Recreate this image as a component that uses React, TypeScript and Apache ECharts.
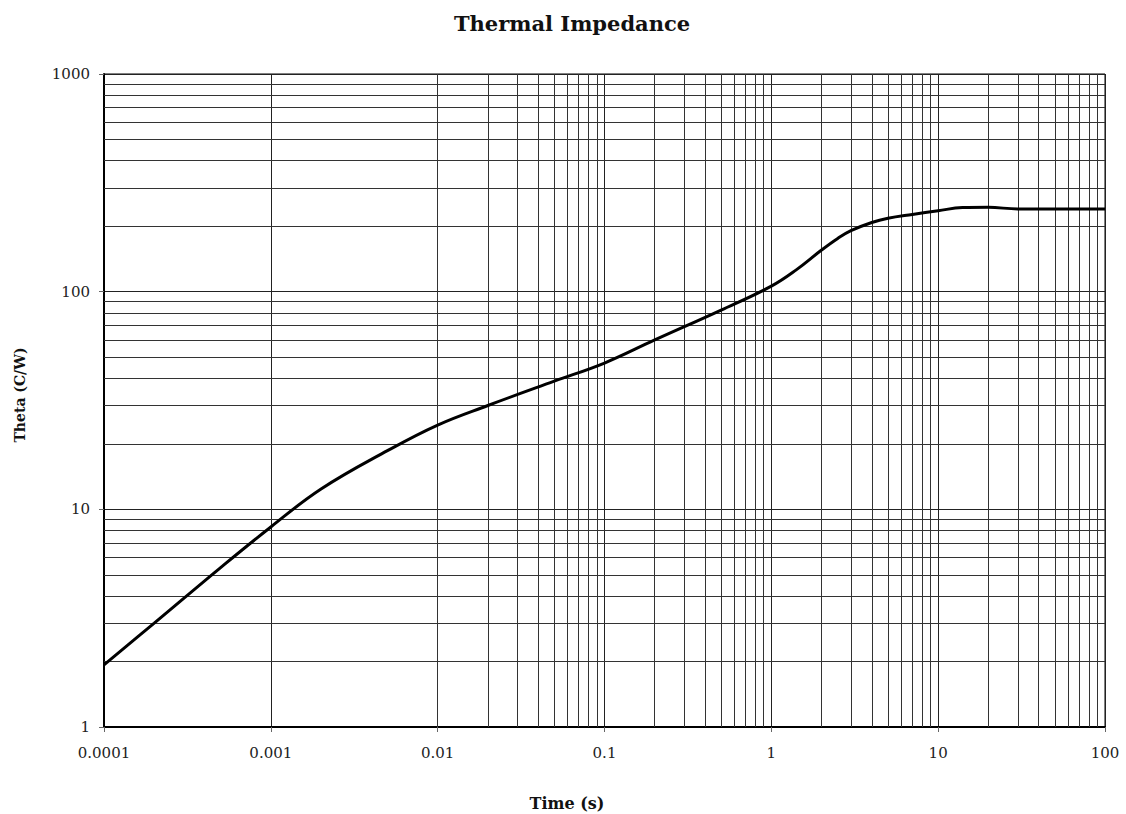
import React, { useEffect, useRef } from "react";
import * as echarts from "echarts";

const timeS = [
  0.0001, 0.0002, 0.0005, 0.001, 0.002, 0.005, 0.01, 0.02, 0.05, 0.1, 0.2, 0.5,
  1, 1.41, 2, 2.5, 3, 4, 5, 7, 10, 14, 20, 30, 100,
];
const thetaCW = [
  1.93, 3.0, 5.4, 8.3, 12.4, 18.6, 24.4, 30, 38.8, 47, 60, 82.3,
  106, 125.9, 155.3, 175.6, 190.6, 207.8, 217.3, 226.3, 235.4, 243.4, 244, 240, 240,
];
const xDecades = [0.0001, 0.001, 0.01, 0.1, 1, 10];
const yDecades = [1, 10, 100];
const minorSteps = [2, 3, 4, 5, 6, 7, 8, 9];
const xTickLabels = ["0.0001", "0.001", "0.01", "0.1", "1", "10", "100"];
const yTickLabels = ["1", "10", "100", "1000"];

const FONT = "DejaVu Serif";

export default function App() {
  const ref = useRef<HTMLDivElement>(null);
  useEffect(() => {
    if (!ref.current) return;
    const chart = echarts.init(ref.current, undefined, { renderer: "svg" });
    const minorX: any[] = [];
    xDecades.forEach((d) => minorSteps.forEach((m) => minorX.push({ xAxis: +(d * m).toPrecision(6) })));
    const minorY: any[] = [];
    yDecades.forEach((d) => minorSteps.forEach((m) => minorY.push({ yAxis: d * m })));
    const fmt = (v: number, labels: string[]) => {
      const found = labels.find((l) => Math.abs(parseFloat(l) - v) / v < 1e-6);
      return found ?? "";
    };
    chart.setOption({
      animation: false,
      backgroundColor: "#fff",
      textStyle: { fontFamily: FONT },
      grid: {
        left: 104,
        right: 21,
        top: 74,
        bottom: 87,
        show: true,
        borderColor: "#000",
        borderWidth: 1,
      },
      graphic: [
        {
          type: "text",
          x: 572,
          y: 23,
          style: {
            text: "Thermal Impedance",
            font: `bold 21px "${FONT}"`,
            fill: "#111",
            textAlign: "center",
            textVerticalAlign: "middle",
          },
        },
        {
          type: "text",
          x: 567,
          y: 803,
          style: {
            text: "Time (s)",
            font: `bold 16px "${FONT}"`,
            fill: "#111",
            textAlign: "center",
            textVerticalAlign: "middle",
          },
        },
        {
          type: "text",
          x: 20,
          y: 395,
          rotation: Math.PI / 2,
          style: {
            text: "Theta (C/W)",
            font: `bold 14px "${FONT}"`,
            fill: "#111",
            textAlign: "center",
            textVerticalAlign: "middle",
          },
        },
      ],
      xAxis: {
        type: "log",
        logBase: 10,
        min: 0.0001,
        max: 100,
        axisLine: { show: true, lineStyle: { color: "#000", width: 2 } },
        axisTick: { show: true, inside: false, length: 5, lineStyle: { color: "#666", width: 1 } },
        axisLabel: {
          margin: 18,
          fontFamily: FONT,
          fontSize: 15,
          color: "#222",
          formatter: (v: number) => fmt(v, xTickLabels),
        },
        splitLine: { show: true, lineStyle: { color: "#222", width: 1 } },
        minorTick: { show: false },
      },
      yAxis: {
        type: "log",
        logBase: 10,
        min: 1,
        max: 1000,
        axisLine: { show: true, lineStyle: { color: "#000", width: 2 } },
        axisTick: { show: true, inside: false, length: 5, lineStyle: { color: "#666", width: 1 } },
        axisLabel: {
          margin: 14,
          fontFamily: FONT,
          fontSize: 15,
          color: "#222",
          formatter: (v: number) => fmt(v, yTickLabels),
        },
        splitLine: { show: true, lineStyle: { color: "#222", width: 1 } },
      },
      series: [
        {
          type: "line",
          name: "Theta",
          data: timeS.map((t, i) => [t, thetaCW[i]]),
          smooth: 0.4,
          showSymbol: false,
          symbol: "none",
          lineStyle: { color: "#000", width: 3 },
          z: 5,
          markLine: {
            silent: true,
            symbol: ["none", "none"],
            label: { show: false },
            lineStyle: { color: "#333", width: 1, type: "solid" },
            emphasis: { disabled: true },
            data: [...minorX, ...minorY],
          },
        },
      ],
    });
    return () => chart.dispose();
  }, []);
  return (
    <div
      ref={ref}
      style={{ position: "absolute", left: 0, top: 0, width: 1126, height: 814 }}
    />
  );
}
